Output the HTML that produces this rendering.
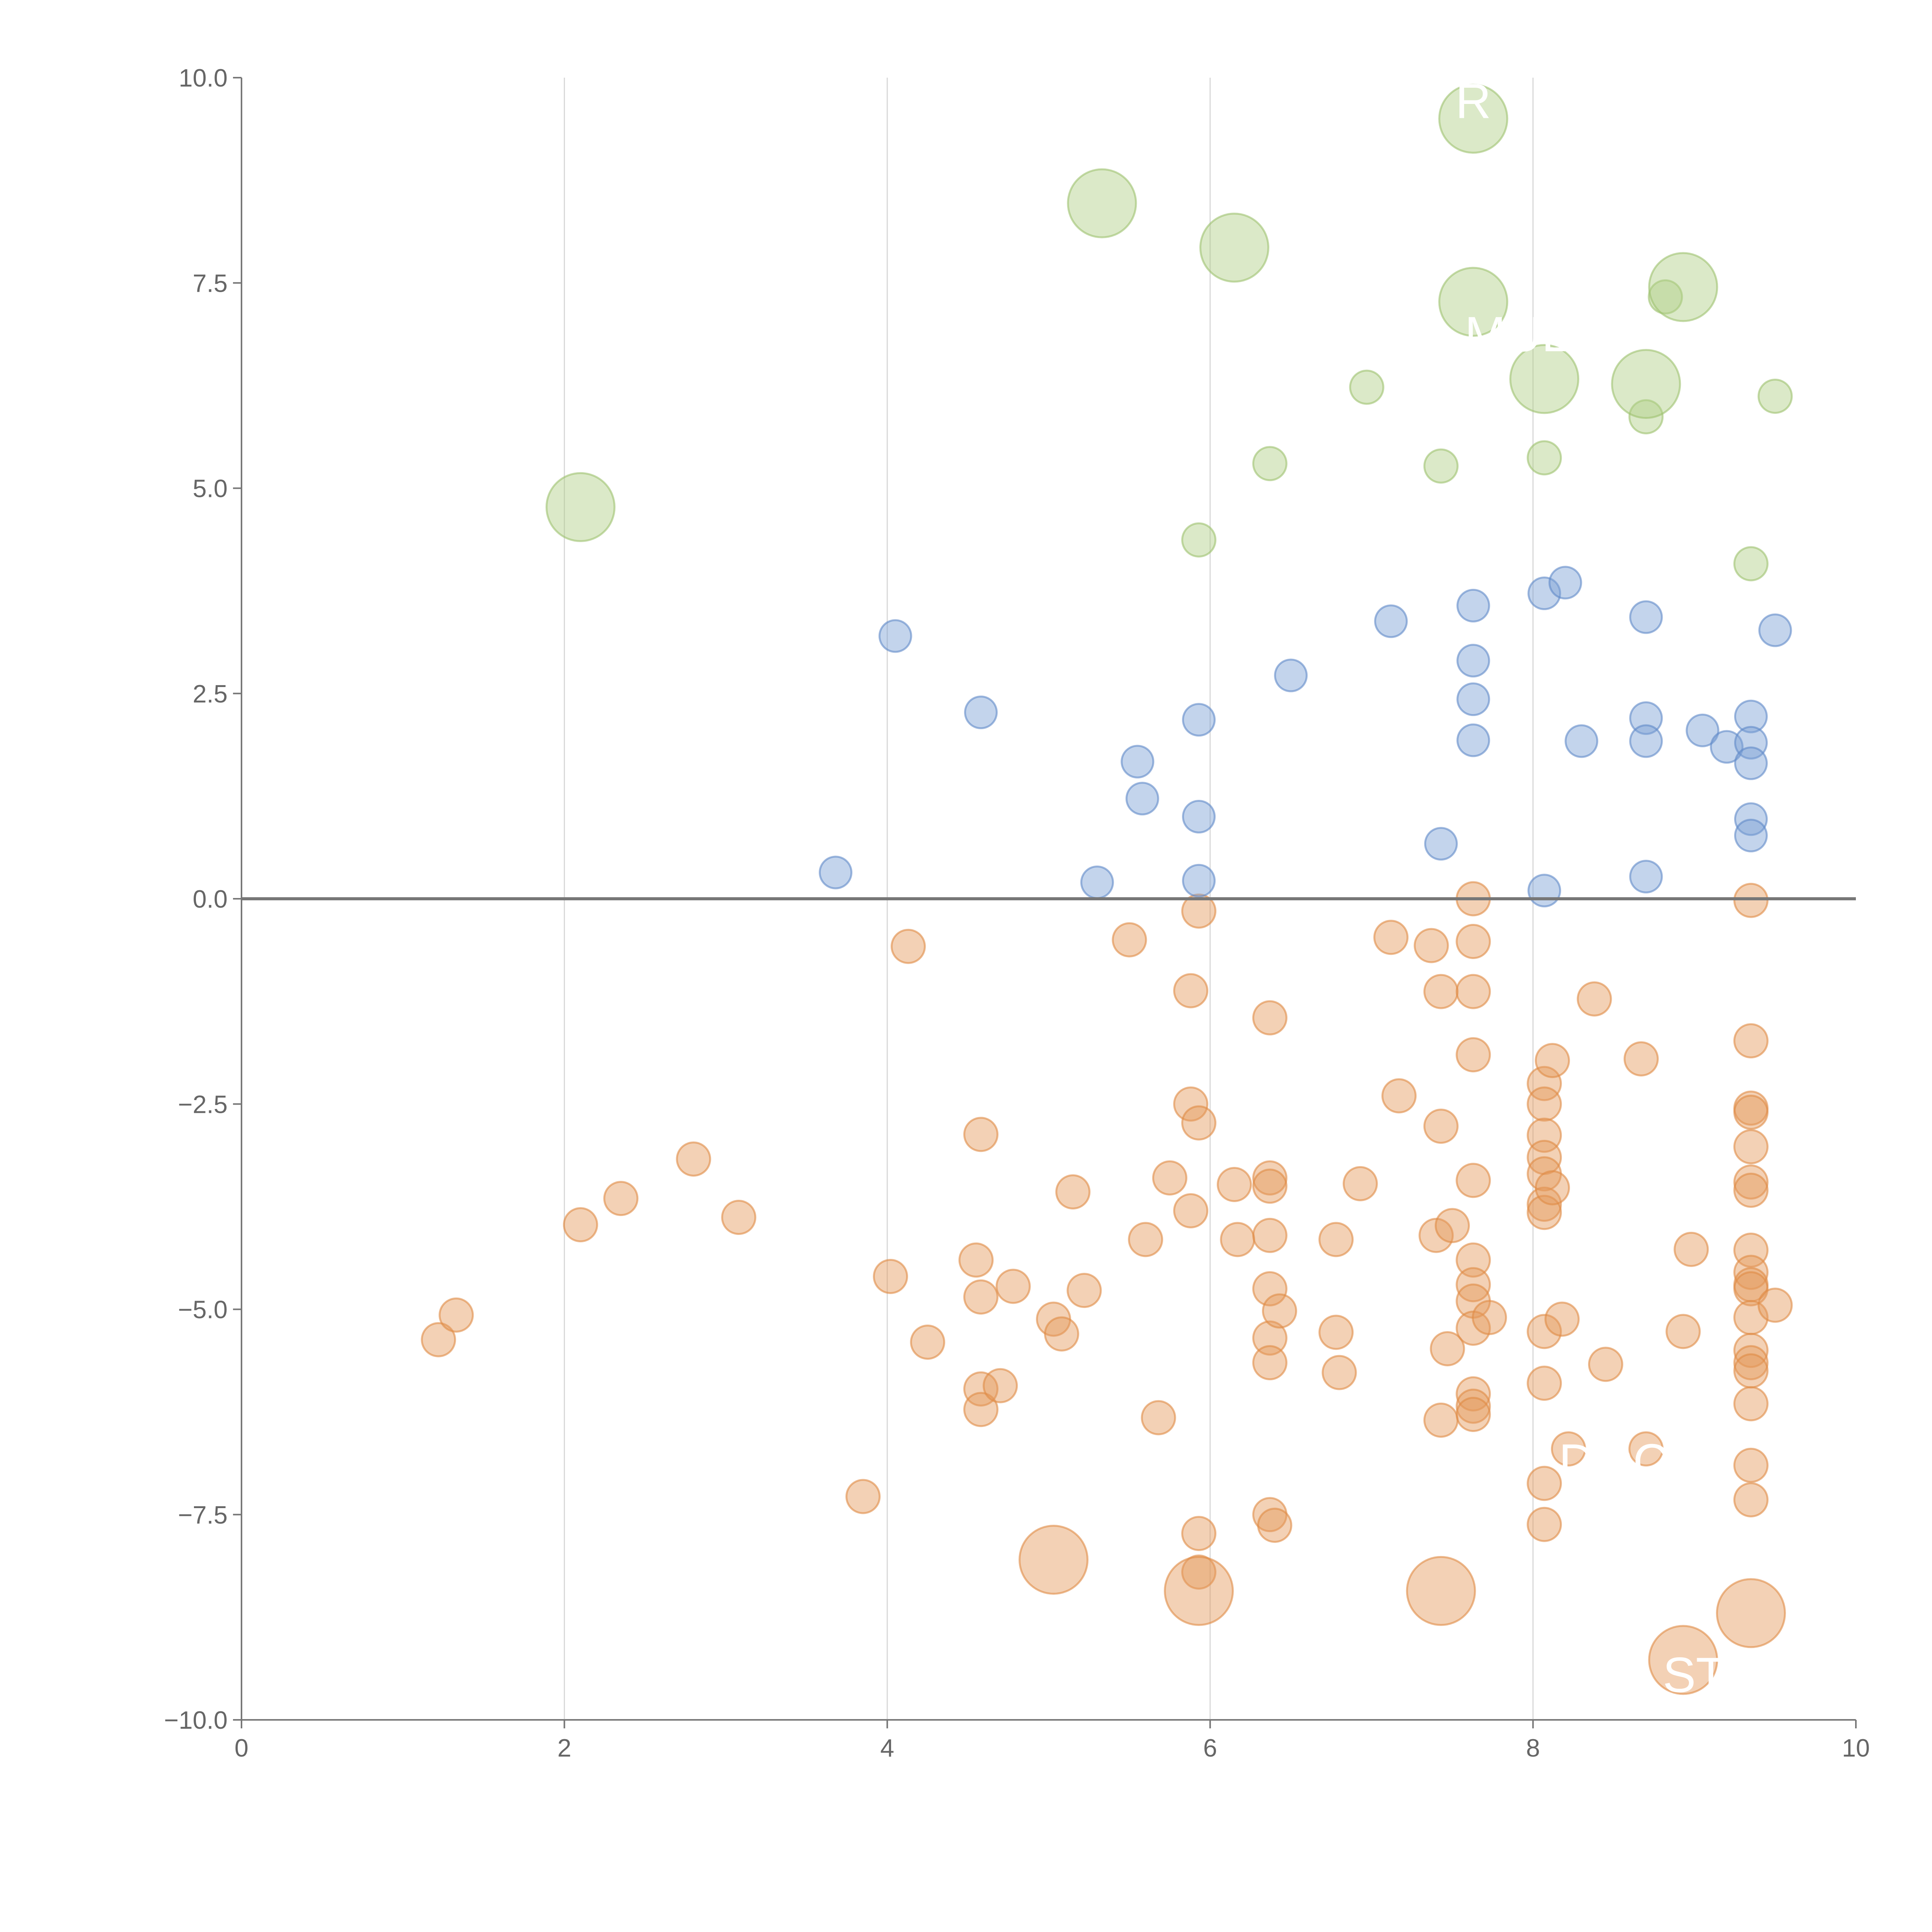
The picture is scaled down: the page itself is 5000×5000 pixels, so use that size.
<!DOCTYPE html>
<html><head><meta charset="utf-8"><style>html,body{margin:0;padding:0;background:#fff}svg{display:block}</style></head>
<body>
<svg id="chart" width="5000" height="5000" viewBox="0 0 5000 5000" xmlns="http://www.w3.org/2000/svg" font-family="Liberation Sans, sans-serif"></svg>
<script>
const xTicks=[0,2,4,6,8,10];
const xTickLabels=["0","2","4","6","8","10"];
const yTicks=[10,7.5,5,2.5,0,-2.5,-5,-7.5,-10];
const yTickLabels=["10.0","7.5","5.0","2.5","0.0","\u22122.5","\u22125.0","\u22127.5","\u221210.0"];
const greenBigX=[5.33,6.15,7.63,7.63,8.93,8.07,8.7,2.1];
const greenBigY=[8.47,7.93,9.5,7.27,7.45,6.33,6.27,4.77];
const greenX=[8.82,6.97,9.5,8.7,6.37,7.43,8.07,5.93,9.35];
const greenY=[7.33,6.23,6.12,5.87,5.3,5.27,5.37,4.37,4.08];
const blueX=[4.05,4.58,3.68,5.55,5.58,5.3,5.93,5.93,5.93,6.5,7.12,7.43,7.63,7.63,7.63,7.63,8.07,8.2,8.07,8.3,8.7,8.7,8.7,8.7,9.05,9.2,9.35,9.35,9.35,9.35,9.35,9.5];
const blueY=[3.2,2.27,0.32,1.67,1.22,0.2,2.18,1.0,0.22,2.72,3.38,0.67,3.57,2.9,2.43,1.93,3.72,3.85,0.1,1.92,3.43,2.2,1.92,0.27,2.05,1.85,2.22,1.9,1.65,0.97,0.77,3.27];
const orangeX=[1.22,1.33,2.1,2.35,2.8,3.08,3.85,4.02,4.13,4.25,4.55,4.58,4.58,4.58,4.58,4.7,4.78,5.03,5.08,5.15,5.22,5.5,5.6,5.68,5.75,5.88,5.88,5.88,5.93,5.93,5.93,5.93,6.15,6.17,6.37,6.37,6.37,6.37,6.37,6.37,6.37,6.37,6.4,6.43,6.78,6.78,6.8,6.93,7.12,7.17,7.37,7.4,7.43,7.43,7.43,7.47,7.5,7.63,7.63,7.63,7.63,7.63,7.63,7.63,7.63,7.63,7.63,7.63,7.63,7.73,8.07,8.07,8.07,8.07,8.07,8.07,8.07,8.07,8.07,8.07,8.07,8.12,8.12,8.18,8.22,8.38,8.45,8.67,8.7,8.93,8.98,9.35,9.35,9.35,9.35,9.35,9.35,9.35,9.35,9.35,9.35,9.35,9.35,9.35,9.35,9.35,9.35,9.35,9.35,9.5];
const orangeY=[-5.37,-5.07,-3.97,-3.65,-3.17,-3.88,-7.28,-4.6,-0.58,-5.4,-4.4,-4.85,-2.87,-5.97,-6.22,-5.93,-4.72,-5.12,-5.3,-3.57,-4.77,-0.5,-4.15,-6.32,-3.4,-1.12,-2.5,-3.8,-2.73,-0.15,-7.73,-8.2,-3.48,-4.15,-1.45,-3.4,-3.5,-4.1,-4.75,-5.35,-5.65,-7.5,-7.63,-5.02,-4.15,-5.28,-5.77,-3.47,-0.47,-2.4,-0.57,-4.1,-1.13,-2.77,-6.35,-5.48,-3.98,0.0,-0.52,-1.13,-1.9,-3.43,-4.4,-4.7,-4.9,-5.23,-6.03,-6.18,-6.28,-5.1,-2.25,-2.5,-2.88,-3.15,-3.35,-3.72,-3.82,-5.27,-5.9,-7.12,-7.62,-1.97,-3.52,-5.12,-6.7,-1.22,-5.67,-1.95,-6.7,-5.27,-4.27,-0.02,-1.73,-2.55,-2.6,-3.02,-3.45,-3.55,-4.28,-4.55,-4.7,-4.75,-5.1,-5.5,-5.65,-5.75,-6.15,-6.9,-7.32,-4.95];
const orangeBigX=[5.03,5.93,7.43,9.35,8.93];
const orangeBigY=[-8.05,-8.43,-8.43,-8.7,-9.27];
const labelText=["R","MUL","DOC","ST"];
const labelX=[7.63,7.9,8.5,9.0];
const labelY=[9.72,6.88,-6.85,-9.45];

const NS="http://www.w3.org/2000/svg";
const svg=document.getElementById('chart');
const X0=625,X1=4803,Y0=201,Y1=4451;
function sx(v){return X0+(v-0)/10*(X1-X0);}
function sy(v){return Y0+(10-v)/20*(Y1-Y0);}
function mk(tag,attrs){const e=document.createElementNS(NS,tag);for(const k in attrs)e.setAttribute(k,attrs[k]);svg.appendChild(e);return e;}

xTicks.forEach((t,i)=>{
  if(t>0&&t<10){const g=mk('line',{x1:sx(t),x2:sx(t),y1:Y0,y2:Y1,stroke:'#d8d8d8','stroke-width':3});
  
  }
  const tk=mk('line',{x1:sx(t),x2:sx(t),y1:Y1,y2:Y1+22,stroke:'#777','stroke-width':4});
  
  
  const tx=mk('text',{x:sx(t),y:Y1+95,'text-anchor':'middle','font-size':65,fill:'#666'});
  tx.textContent=xTickLabels[i];
  
  
});
yTicks.forEach((t,i)=>{
  const tk=mk('line',{x1:X0-22,x2:X0,y1:sy(t),y2:sy(t),stroke:'#777','stroke-width':4});
  
  
  const tx=mk('text',{x:X0-36,y:sy(t)+23,'text-anchor':'end','font-size':65,fill:'#666'});
  tx.textContent=yTickLabels[i];
  
  
});
const xa=mk('line',{x1:X0,x2:X1,y1:Y1,y2:Y1,stroke:'#777','stroke-width':4});


const ya=mk('line',{x1:X0,x2:X0,y1:Y0,y2:Y1,stroke:'#777','stroke-width':4});



function dots(xs,ys,r,fill,stroke,name){
  xs.forEach((x,i)=>{
    const c=mk('circle',{cx:sx(x),cy:sy(ys[i]),r:r,fill:fill,'fill-opacity':0.45,stroke:stroke,'stroke-opacity':0.6,'stroke-width':5});
    
    
  });
}
dots(orangeX,orangeY,43,'#e59a5c','#e08a45','orange-point');
dots(orangeBigX,orangeBigY,88,'#e59a5c','#e08a45','orange-large-point');
dots(blueX,blueY,41,'#7b9fd4','#5f88c8','blue-point');
dots(greenX,greenY,43,'#afcf86','#9cc26e','green-point');
dots(greenBigX,greenBigY,88,'#afcf86','#9cc26e','green-large-point');

const zl=mk('line',{x1:X0,x2:X1,y1:sy(0),y2:sy(0),stroke:'#777','stroke-width':8});



labelText.forEach((s,i)=>{
  const t=mk('text',{x:sx(labelX[i]),y:sy(labelY[i])+45,'text-anchor':'middle','font-size':128,fill:'#fff'});
  t.textContent=s;
  
  
});
</script>
</body></html>
